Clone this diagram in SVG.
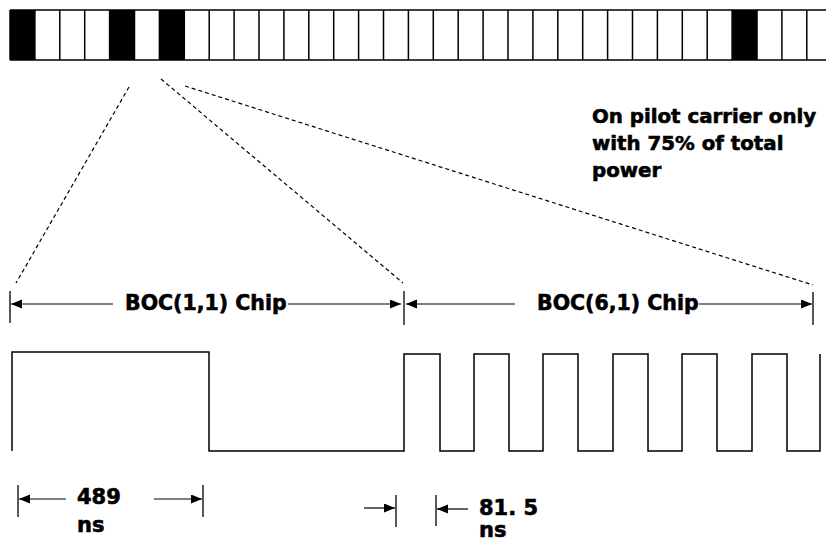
<svg xmlns="http://www.w3.org/2000/svg" width="826" height="541" viewBox="0 0 826 541">
<style>
.ln{stroke:#000;stroke-width:1.5;fill:none}
.dim{stroke:#000;stroke-width:1.2;fill:none}
.tick{stroke:#000;stroke-width:1.3;fill:none}
.dash{stroke:#000;stroke-width:1.2;fill:none;stroke-dasharray:4 3}
.t{font-family:"DejaVu Sans",Verdana,sans-serif;font-weight:bold;font-size:20.5px;fill:#000;stroke:#000;stroke-width:0.6}
.n{font-family:"DejaVu Sans",Verdana,sans-serif;font-weight:bold;font-size:19.8px;fill:#000;stroke:#000;stroke-width:0.6}
.t2{font-family:"DejaVu Sans",Verdana,sans-serif;font-weight:bold;font-size:21px;fill:#000;stroke:#000;stroke-width:0.6}
</style>
<defs>
<marker id="ah" markerUnits="userSpaceOnUse" markerWidth="12" markerHeight="10" refX="11" refY="4.5" orient="auto">
<path d="M0,0 L11,4.5 L0,9 z" fill="#000"/>
</marker>
</defs>
<rect width="826" height="541" fill="#fff"/>
<g id="code-bar">
<rect x="10" y="10" width="24.9" height="50" fill="#000"/>
<rect x="109.6" y="10" width="24.9" height="50" fill="#000"/>
<rect x="159.4" y="10" width="24.9" height="50" fill="#000"/>
<rect x="732.1" y="10" width="24.9" height="50" fill="#000"/>
<path class="ln" d="M10,10 H826 M10,60 H826 M10,10 V60 M34.9,10 V60 M59.8,10 V60 M84.7,10 V60 M109.6,10 V60 M134.5,10 V60 M159.4,10 V60 M184.3,10 V60 M209.2,10 V60 M234.1,10 V60 M259,10 V60 M283.9,10 V60 M308.8,10 V60 M333.7,10 V60 M358.6,10 V60 M383.5,10 V60 M408.4,10 V60 M433.3,10 V60 M458.2,10 V60 M483.1,10 V60 M508,10 V60 M532.9,10 V60 M557.8,10 V60 M582.7,10 V60 M607.6,10 V60 M632.5,10 V60 M657.4,10 V60 M682.3,10 V60 M707.2,10 V60 M732.1,10 V60 M757,10 V60 M781.9,10 V60 M806.8,10 V60"/>
</g>
<g id="note">
<text class="n" x="592" y="123">On pilot carrier only</text>
<text class="n" x="592" y="150">with 75% of total</text>
<text class="n" x="592" y="177">power</text>
</g>
<g id="connectors">
<line class="dash" x1="129" y1="87" x2="16" y2="283"/>
<line class="dash" x1="161" y1="79" x2="403" y2="283"/>
<line class="dash" x1="185" y1="86" x2="813" y2="285"/>
<path class="tick" d="M10,291 V323 M404,291 V325 M813,292 V325"/>
<line class="dim" x1="113" y1="304" x2="11" y2="304" marker-end="url(#ah)"/>
<line class="dim" x1="288" y1="304" x2="401" y2="304" marker-end="url(#ah)"/>
<line class="dim" x1="515" y1="304" x2="406" y2="304" marker-end="url(#ah)"/>
<line class="dim" x1="699" y1="304" x2="812" y2="304" marker-end="url(#ah)"/>
<path class="tick" d="M18,485 V517 M203,485 V517 M396,495 V527 M436,495 V526"/>
<line class="dim" x1="66" y1="499" x2="19" y2="499" marker-end="url(#ah)"/>
<line class="dim" x1="154" y1="499" x2="202" y2="499" marker-end="url(#ah)"/>
<line class="dim" x1="364" y1="508" x2="395" y2="508" marker-end="url(#ah)"/>
<line class="dim" x1="468" y1="509" x2="437" y2="509" marker-end="url(#ah)"/>
</g>
<g id="boc11-label">
<text class="t" x="125" y="310">BOC(1,1) Chip</text>
</g>
<g id="boc61-label">
<text class="t" x="537" y="310">BOC(6,1) Chip</text>
</g>
<g id="waveform">
<path class="ln" d="M12,451 V352 H209 V451 H404 V354 H440 V451 H474 V354 H509 V451 H543 V354 H578 V451 H613 V354 H648 V451 H682 V354 H717 V451 H752 V354 H787 V451 H820 V354"/>
</g>
<g id="dim-labels">
<text class="t2" x="77" y="504">489</text>
<text class="t2" x="77" y="532">ns</text>
<text class="t2" x="479" y="515">81. 5</text>
<text class="t2" x="479" y="537">ns</text>
</g>
</svg>
